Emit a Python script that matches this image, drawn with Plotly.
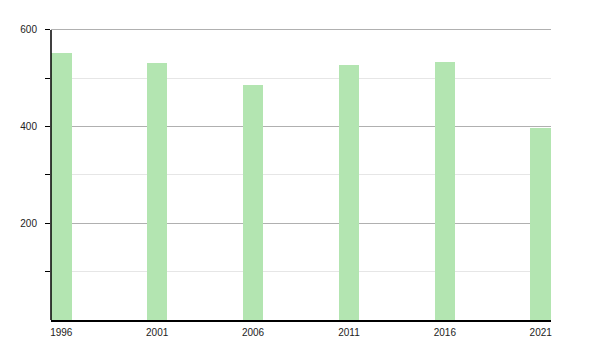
import plotly.graph_objects as go

years = [1996, 2001, 2006, 2011, 2016, 2021]
values = [552, 531, 486, 527, 533, 397]
tick_labels = ["1996", "2001", "2006", "2011", "2016", "2021"]

bar_color = "#b3e5b1"

fig = go.Figure()
fig.add_trace(go.Bar(
    x=years, y=values, width=1.07,
    marker=dict(color=bar_color, line=dict(width=0)),
    hoverinfo="x+y",
))

fig.update_layout(
    width=600, height=350,
    margin=dict(l=51, r=49, t=27, b=28, pad=0),
    paper_bgcolor="white", plot_bgcolor="white",
    showlegend=False,
    font=dict(family="Liberation Sans, Arial, sans-serif", size=10, color="#222"),
    bargap=0,
)
fig.update_xaxes(
    range=[1996 - 0.535, 2021 + 0.535],
    tickmode="array", tickvals=years, ticktext=tick_labels,
    showgrid=False, zeroline=False,
    showline=True, linecolor="black", linewidth=1.5,
    ticks="", ticklabelstandoff=2,
)
fig.update_yaxes(
    range=[0, 606],
    tickmode="array", tickvals=[200, 400, 600],
    showgrid=True, gridcolor="#b0b0b0", gridwidth=1,
    zeroline=False,
    showline=False,
    ticks="outside", ticklen=5, tickcolor="black", tickwidth=1,
    minor=dict(tickvals=[100, 300, 500], showgrid=True, gridcolor="#e6e6e6",
               ticks="outside", ticklen=5, tickcolor="black", tickwidth=1),
    ticklabelstandoff=6,
)
# vertical axis line spanning only 0..600 (drawn via a y-axis-referenced shape)
fig.add_shape(type="line", xref="paper", yref="y", x0=0, x1=0, y0=0, y1=600,
              line=dict(color="black", width=1.5), layer="above")

fig.write_html("out.html")
